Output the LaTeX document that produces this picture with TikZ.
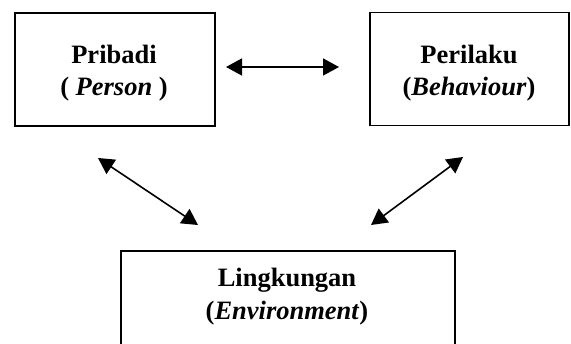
\documentclass[tikz,border=0pt]{standalone}
\usepackage{fontspec}
\setmainfont{Liberation Serif}
\usetikzlibrary{arrows.meta}
\begin{document}
\begin{tikzpicture}[x=1pt,y=-1pt,
  boxnode/.style={draw=black,line width=1.8pt,minimum width=#1,inner sep=0pt,outer sep=0pt},
  lbl/.style={anchor=base,inner sep=0pt,font=\fontsize{26.5}{32}\selectfont\bfseries},
  dbl/.style={line width=1.6pt,{Triangle[length=16pt,width=17pt]}-{Triangle[length=16pt,width=17pt]}}]
\useasboundingbox (0,0) rectangle (571,344);
\clip (0,0) rectangle (571,344);
% boxes
\node[boxnode=200pt,minimum height=113pt] (pbox) at (115,69.5) {};
\node[boxnode=199pt,minimum height=113pt] (bbox) at (469.5,69) {};
\node[boxnode=334pt,minimum height=130pt] (ebox) at (288,316) {};
% labels
\node[lbl] (p1) at (114,64) {Pribadi};
\node[lbl] (p2) at (114,96) {( \textit{Person} )};
\node[lbl] (b1) at (469,64) {Perilaku};
\node[lbl] (b2) at (469,96) {(\textit{Behaviour})};
\node[lbl] (e1) at (287,287) {Lingkungan};
\node[lbl] (e2) at (287,320) {(\textit{Environment})};
% arrow ends
\coordinate (h1) at (226,67);
\coordinate (h2) at (339,67);
\coordinate (l1) at (98,158);
\coordinate (l2) at (198,225);
\coordinate (r1) at (463,157);
\coordinate (r2) at (371,225);
\draw[dbl] (h1) -- (h2);
\draw[dbl] (l1) -- (l2);
\draw[dbl] (r1) -- (r2);
\end{tikzpicture}
\end{document}
